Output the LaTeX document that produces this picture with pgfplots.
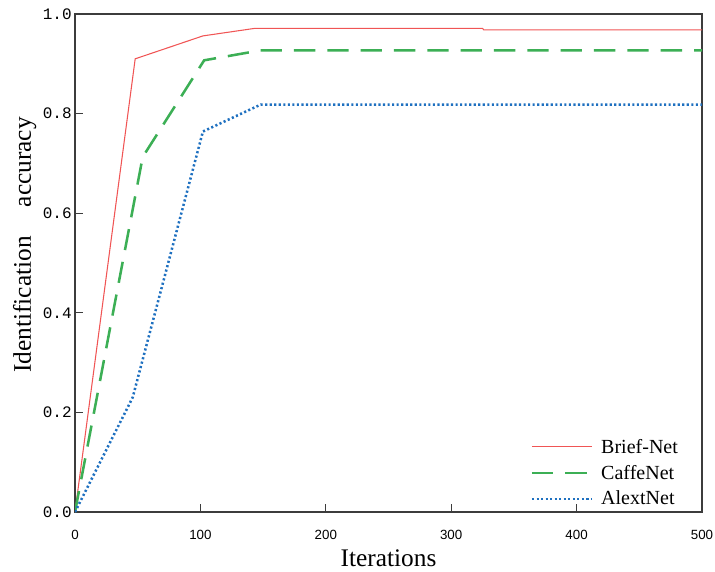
\documentclass[border=0pt]{standalone}
\usepackage{fontspec}
\setmainfont{Liberation Serif}
\newfontfamily\monofont{Liberation Mono}
\newfontfamily\sansfont{Liberation Sans}
\usepackage{pgfplots}
\pgfplotsset{compat=1.18}
\usetikzlibrary{calc}
\definecolor{briefred}{RGB}{240,85,85}
\definecolor{caffegreen}{RGB}{60,175,85}
\definecolor{alexblue}{RGB}{30,112,192}
\definecolor{frame}{RGB}{60,60,60}

\begin{document}
\begin{tikzpicture}
\begin{axis}[
  scale only axis, width=470.25pt, height=373.5pt,
  xmin=0, xmax=500, ymin=0, ymax=1,
  xtick={0,100,200,300,400,500},
  ytick={0,0.2,0.4,0.6,0.8,1.0},
  xtick pos=bottom, ytick pos=left, tick align=inside,
  major tick length=6pt,
  axis line style={frame, line width=1.1pt},
  tick style={frame, line width=1pt},
  /pgf/number format/assume math mode=true,
  yticklabel style={/pgf/number format/fixed, /pgf/number format/fixed zerofill,
    /pgf/number format/precision=1, xshift=1pt, font=\monofont\fontsize{12}{14}\selectfont},
  xticklabel style={yshift=-10pt, font=\sansfont\fontsize{10}{12}\selectfont},
  xlabel={Iterations}, xlabel style={font=\fontsize{19}{22}\selectfont, yshift=-1pt},
  ylabel={Identification\hspace{1.15em}accuracy},
  ylabel style={font=\fontsize{19}{22}\selectfont, yshift=-2pt, xshift=13.5pt},
  legend style={draw=none, fill=none, at={(rel axis cs:0.72,0.158)}, anchor=north west,
    font=\fontsize{15}{18}\selectfont, row sep=3.5pt,
    nodes={inner xsep=6pt}},
  legend cell align=left,
  legend image code/.code={\draw[#1] (0pt,0pt) -- (45pt,0pt);},
]
\addplot[briefred, line width=0.8pt] coordinates {(0,0) (48,0.91) (102,0.956) (143,0.971) (325,0.971) (326,0.968) (500,0.968)};
\addlegendentry{Brief-Net}
\addplot[caffegreen, line width=1.9pt, dash pattern=on 16pt off 9pt] coordinates {(0,0) (54,0.713) (103,0.907) (148,0.927) (500,0.927)};
\addlegendentry{CaffeNet}
\addplot[alexblue, line width=1.9pt, dash pattern=on 1.6pt off 1.8pt] coordinates {(0,0) (46,0.23) (102,0.764) (148,0.818) (500,0.818)};
\addlegendentry{AlextNet}
\coordinate (sw) at (rel axis cs:0,0);
\coordinate (ne) at (rel axis cs:1,1);
\end{axis}
\pgfresetboundingbox
\path[use as bounding box] ($(sw)+(-56.25pt,-44.25pt)$) rectangle ($(ne)+(9.75pt,10.5pt)$);
\end{tikzpicture}
\end{document}
